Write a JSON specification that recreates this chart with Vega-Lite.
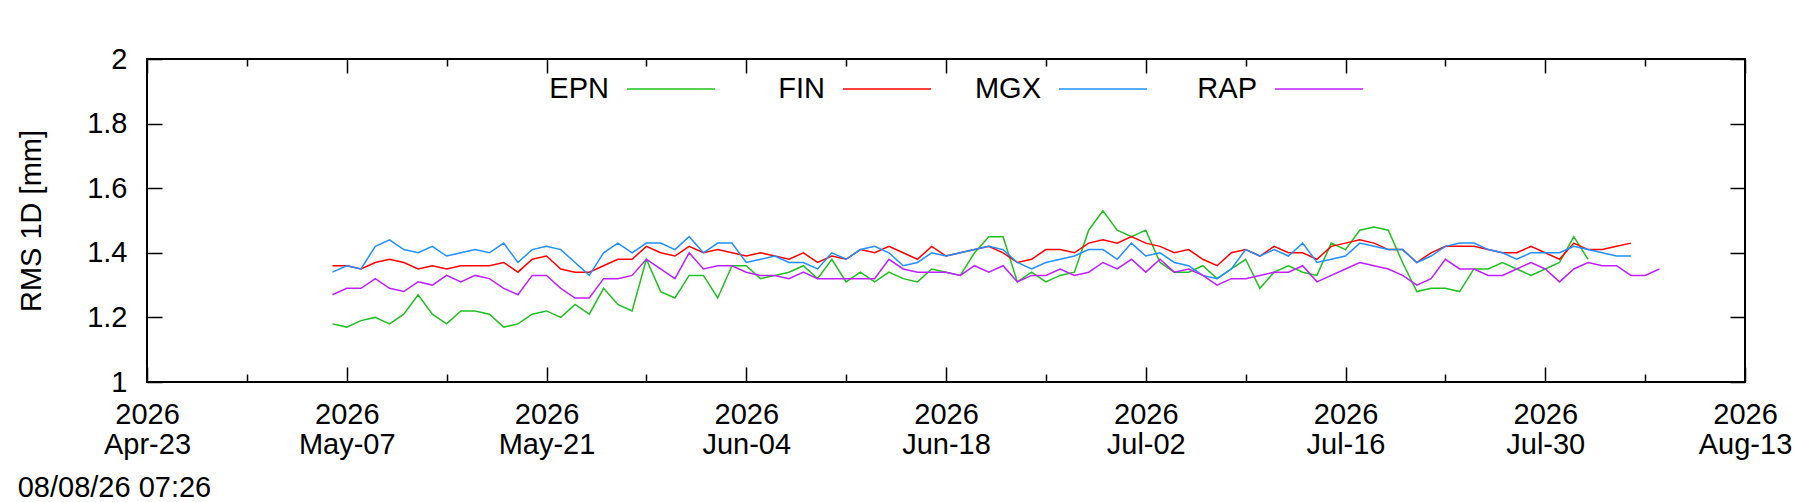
{
"$schema": "https://vega.github.io/schema/vega-lite/v6.json",
"width": 1598, "height": 323,
"autosize": {"type": "none"},
"padding": {"left": 147, "top": 59, "right": 55, "bottom": 120},
"background": "white",
"config": {
  "view": {"stroke": "black", "strokeWidth": 2},
  "font": "Liberation Sans",
  "axis": {"labelFont": "Liberation Sans", "labelFontSize": 29, "labelColor": "black", "titleFont": "Liberation Sans", "titleFontSize": 29, "titleFontWeight": "normal", "titleColor": "black", "tickColor": "black", "tickWidth": 1.5, "grid": false, "domain": false}
},
"title": {"text": "08/08/26 07:26", "orient": "bottom", "anchor": "start", "frame": "bounds", "fontSize": 29, "fontWeight": "normal", "font": "Liberation Sans", "color": "black", "offset": 15},
"data": {"values": [
{"t":"2026-05-06","s":"EPN","v":1.18},{"t":"2026-05-07","s":"EPN","v":1.17},{"t":"2026-05-08","s":"EPN","v":1.19},{"t":"2026-05-09","s":"EPN","v":1.20},{"t":"2026-05-10","s":"EPN","v":1.18},{"t":"2026-05-11","s":"EPN","v":1.21},{"t":"2026-05-12","s":"EPN","v":1.27},{"t":"2026-05-13","s":"EPN","v":1.21},{"t":"2026-05-14","s":"EPN","v":1.18},{"t":"2026-05-15","s":"EPN","v":1.22},{"t":"2026-05-16","s":"EPN","v":1.22},{"t":"2026-05-17","s":"EPN","v":1.21},{"t":"2026-05-18","s":"EPN","v":1.17},{"t":"2026-05-19","s":"EPN","v":1.18},{"t":"2026-05-20","s":"EPN","v":1.21},{"t":"2026-05-21","s":"EPN","v":1.22},{"t":"2026-05-22","s":"EPN","v":1.20},{"t":"2026-05-23","s":"EPN","v":1.24},{"t":"2026-05-24","s":"EPN","v":1.21},{"t":"2026-05-25","s":"EPN","v":1.29},{"t":"2026-05-26","s":"EPN","v":1.24},{"t":"2026-05-27","s":"EPN","v":1.22},{"t":"2026-05-28","s":"EPN","v":1.38},{"t":"2026-05-29","s":"EPN","v":1.28},{"t":"2026-05-30","s":"EPN","v":1.26},{"t":"2026-05-31","s":"EPN","v":1.33},
{"t":"2026-06-01","s":"EPN","v":1.33},{"t":"2026-06-02","s":"EPN","v":1.26},{"t":"2026-06-03","s":"EPN","v":1.36},{"t":"2026-06-04","s":"EPN","v":1.36},{"t":"2026-06-05","s":"EPN","v":1.32},{"t":"2026-06-06","s":"EPN","v":1.33},{"t":"2026-06-07","s":"EPN","v":1.34},{"t":"2026-06-08","s":"EPN","v":1.36},{"t":"2026-06-09","s":"EPN","v":1.32},{"t":"2026-06-10","s":"EPN","v":1.38},{"t":"2026-06-11","s":"EPN","v":1.31},{"t":"2026-06-12","s":"EPN","v":1.34},{"t":"2026-06-13","s":"EPN","v":1.31},{"t":"2026-06-14","s":"EPN","v":1.34},{"t":"2026-06-15","s":"EPN","v":1.32},{"t":"2026-06-16","s":"EPN","v":1.31},{"t":"2026-06-17","s":"EPN","v":1.35},{"t":"2026-06-18","s":"EPN","v":1.34},{"t":"2026-06-19","s":"EPN","v":1.33},{"t":"2026-06-20","s":"EPN","v":1.40},{"t":"2026-06-21","s":"EPN","v":1.45},{"t":"2026-06-22","s":"EPN","v":1.45},{"t":"2026-06-23","s":"EPN","v":1.31},{"t":"2026-06-24","s":"EPN","v":1.34},{"t":"2026-06-25","s":"EPN","v":1.31},{"t":"2026-06-26","s":"EPN","v":1.33},{"t":"2026-06-27","s":"EPN","v":1.34},{"t":"2026-06-28","s":"EPN","v":1.47},{"t":"2026-06-29","s":"EPN","v":1.53},{"t":"2026-06-30","s":"EPN","v":1.47},
{"t":"2026-07-01","s":"EPN","v":1.45},{"t":"2026-07-02","s":"EPN","v":1.47},{"t":"2026-07-03","s":"EPN","v":1.37},{"t":"2026-07-04","s":"EPN","v":1.34},{"t":"2026-07-05","s":"EPN","v":1.34},{"t":"2026-07-06","s":"EPN","v":1.36},{"t":"2026-07-07","s":"EPN","v":1.32},{"t":"2026-07-08","s":"EPN","v":1.35},{"t":"2026-07-09","s":"EPN","v":1.38},{"t":"2026-07-10","s":"EPN","v":1.29},{"t":"2026-07-11","s":"EPN","v":1.34},{"t":"2026-07-12","s":"EPN","v":1.36},{"t":"2026-07-13","s":"EPN","v":1.34},{"t":"2026-07-14","s":"EPN","v":1.33},{"t":"2026-07-15","s":"EPN","v":1.43},{"t":"2026-07-16","s":"EPN","v":1.41},{"t":"2026-07-17","s":"EPN","v":1.47},{"t":"2026-07-18","s":"EPN","v":1.48},{"t":"2026-07-19","s":"EPN","v":1.47},{"t":"2026-07-20","s":"EPN","v":1.37},{"t":"2026-07-21","s":"EPN","v":1.28},{"t":"2026-07-22","s":"EPN","v":1.29},{"t":"2026-07-23","s":"EPN","v":1.29},{"t":"2026-07-24","s":"EPN","v":1.28},{"t":"2026-07-25","s":"EPN","v":1.35},{"t":"2026-07-26","s":"EPN","v":1.35},{"t":"2026-07-27","s":"EPN","v":1.37},{"t":"2026-07-28","s":"EPN","v":1.35},{"t":"2026-07-29","s":"EPN","v":1.33},{"t":"2026-07-30","s":"EPN","v":1.35},{"t":"2026-07-31","s":"EPN","v":1.37},
{"t":"2026-08-01","s":"EPN","v":1.45},{"t":"2026-08-02","s":"EPN","v":1.38},
{"t":"2026-05-06","s":"FIN","v":1.36},{"t":"2026-05-07","s":"FIN","v":1.36},{"t":"2026-05-08","s":"FIN","v":1.35},{"t":"2026-05-09","s":"FIN","v":1.37},{"t":"2026-05-10","s":"FIN","v":1.38},{"t":"2026-05-11","s":"FIN","v":1.37},{"t":"2026-05-12","s":"FIN","v":1.35},{"t":"2026-05-13","s":"FIN","v":1.36},{"t":"2026-05-14","s":"FIN","v":1.35},{"t":"2026-05-15","s":"FIN","v":1.36},{"t":"2026-05-16","s":"FIN","v":1.36},{"t":"2026-05-17","s":"FIN","v":1.36},{"t":"2026-05-18","s":"FIN","v":1.37},{"t":"2026-05-19","s":"FIN","v":1.34},{"t":"2026-05-20","s":"FIN","v":1.38},{"t":"2026-05-21","s":"FIN","v":1.39},{"t":"2026-05-22","s":"FIN","v":1.35},{"t":"2026-05-23","s":"FIN","v":1.34},{"t":"2026-05-24","s":"FIN","v":1.34},{"t":"2026-05-25","s":"FIN","v":1.36},{"t":"2026-05-26","s":"FIN","v":1.38},{"t":"2026-05-27","s":"FIN","v":1.38},{"t":"2026-05-28","s":"FIN","v":1.42},{"t":"2026-05-29","s":"FIN","v":1.40},{"t":"2026-05-30","s":"FIN","v":1.39},{"t":"2026-05-31","s":"FIN","v":1.42},
{"t":"2026-06-01","s":"FIN","v":1.40},{"t":"2026-06-02","s":"FIN","v":1.41},{"t":"2026-06-03","s":"FIN","v":1.40},{"t":"2026-06-04","s":"FIN","v":1.39},{"t":"2026-06-05","s":"FIN","v":1.40},{"t":"2026-06-06","s":"FIN","v":1.39},{"t":"2026-06-07","s":"FIN","v":1.38},{"t":"2026-06-08","s":"FIN","v":1.40},{"t":"2026-06-09","s":"FIN","v":1.37},{"t":"2026-06-10","s":"FIN","v":1.39},{"t":"2026-06-11","s":"FIN","v":1.38},{"t":"2026-06-12","s":"FIN","v":1.41},{"t":"2026-06-13","s":"FIN","v":1.40},{"t":"2026-06-14","s":"FIN","v":1.42},{"t":"2026-06-15","s":"FIN","v":1.40},{"t":"2026-06-16","s":"FIN","v":1.38},{"t":"2026-06-17","s":"FIN","v":1.42},{"t":"2026-06-18","s":"FIN","v":1.39},{"t":"2026-06-19","s":"FIN","v":1.40},{"t":"2026-06-20","s":"FIN","v":1.41},{"t":"2026-06-21","s":"FIN","v":1.42},{"t":"2026-06-22","s":"FIN","v":1.40},{"t":"2026-06-23","s":"FIN","v":1.37},{"t":"2026-06-24","s":"FIN","v":1.38},{"t":"2026-06-25","s":"FIN","v":1.41},{"t":"2026-06-26","s":"FIN","v":1.41},{"t":"2026-06-27","s":"FIN","v":1.40},{"t":"2026-06-28","s":"FIN","v":1.43},{"t":"2026-06-29","s":"FIN","v":1.44},{"t":"2026-06-30","s":"FIN","v":1.43},
{"t":"2026-07-01","s":"FIN","v":1.45},{"t":"2026-07-02","s":"FIN","v":1.43},{"t":"2026-07-03","s":"FIN","v":1.42},{"t":"2026-07-04","s":"FIN","v":1.40},{"t":"2026-07-05","s":"FIN","v":1.41},{"t":"2026-07-06","s":"FIN","v":1.38},{"t":"2026-07-07","s":"FIN","v":1.36},{"t":"2026-07-08","s":"FIN","v":1.40},{"t":"2026-07-09","s":"FIN","v":1.41},{"t":"2026-07-10","s":"FIN","v":1.39},{"t":"2026-07-11","s":"FIN","v":1.42},{"t":"2026-07-12","s":"FIN","v":1.40},{"t":"2026-07-13","s":"FIN","v":1.40},{"t":"2026-07-14","s":"FIN","v":1.38},{"t":"2026-07-15","s":"FIN","v":1.42},{"t":"2026-07-16","s":"FIN","v":1.43},{"t":"2026-07-17","s":"FIN","v":1.44},{"t":"2026-07-18","s":"FIN","v":1.43},{"t":"2026-07-19","s":"FIN","v":1.41},{"t":"2026-07-20","s":"FIN","v":1.41},{"t":"2026-07-21","s":"FIN","v":1.37},{"t":"2026-07-22","s":"FIN","v":1.40},{"t":"2026-07-23","s":"FIN","v":1.42},{"t":"2026-07-24","s":"FIN","v":1.42},{"t":"2026-07-25","s":"FIN","v":1.42},{"t":"2026-07-26","s":"FIN","v":1.41},{"t":"2026-07-27","s":"FIN","v":1.40},{"t":"2026-07-28","s":"FIN","v":1.40},{"t":"2026-07-29","s":"FIN","v":1.42},{"t":"2026-07-30","s":"FIN","v":1.40},{"t":"2026-07-31","s":"FIN","v":1.38},
{"t":"2026-08-01","s":"FIN","v":1.43},{"t":"2026-08-02","s":"FIN","v":1.41},{"t":"2026-08-03","s":"FIN","v":1.41},{"t":"2026-08-04","s":"FIN","v":1.42},{"t":"2026-08-05","s":"FIN","v":1.43},
{"t":"2026-05-06","s":"MGX","v":1.34},{"t":"2026-05-07","s":"MGX","v":1.36},{"t":"2026-05-08","s":"MGX","v":1.35},{"t":"2026-05-09","s":"MGX","v":1.42},{"t":"2026-05-10","s":"MGX","v":1.44},{"t":"2026-05-11","s":"MGX","v":1.41},{"t":"2026-05-12","s":"MGX","v":1.40},{"t":"2026-05-13","s":"MGX","v":1.42},{"t":"2026-05-14","s":"MGX","v":1.39},{"t":"2026-05-15","s":"MGX","v":1.40},{"t":"2026-05-16","s":"MGX","v":1.41},{"t":"2026-05-17","s":"MGX","v":1.40},{"t":"2026-05-18","s":"MGX","v":1.43},{"t":"2026-05-19","s":"MGX","v":1.37},{"t":"2026-05-20","s":"MGX","v":1.41},{"t":"2026-05-21","s":"MGX","v":1.42},{"t":"2026-05-22","s":"MGX","v":1.41},{"t":"2026-05-23","s":"MGX","v":1.37},{"t":"2026-05-24","s":"MGX","v":1.33},{"t":"2026-05-25","s":"MGX","v":1.40},{"t":"2026-05-26","s":"MGX","v":1.43},{"t":"2026-05-27","s":"MGX","v":1.40},{"t":"2026-05-28","s":"MGX","v":1.43},{"t":"2026-05-29","s":"MGX","v":1.43},{"t":"2026-05-30","s":"MGX","v":1.41},{"t":"2026-05-31","s":"MGX","v":1.45},
{"t":"2026-06-01","s":"MGX","v":1.40},{"t":"2026-06-02","s":"MGX","v":1.43},{"t":"2026-06-03","s":"MGX","v":1.43},{"t":"2026-06-04","s":"MGX","v":1.37},{"t":"2026-06-05","s":"MGX","v":1.38},{"t":"2026-06-06","s":"MGX","v":1.39},{"t":"2026-06-07","s":"MGX","v":1.37},{"t":"2026-06-08","s":"MGX","v":1.37},{"t":"2026-06-09","s":"MGX","v":1.35},{"t":"2026-06-10","s":"MGX","v":1.40},{"t":"2026-06-11","s":"MGX","v":1.38},{"t":"2026-06-12","s":"MGX","v":1.41},{"t":"2026-06-13","s":"MGX","v":1.42},{"t":"2026-06-14","s":"MGX","v":1.40},{"t":"2026-06-15","s":"MGX","v":1.36},{"t":"2026-06-16","s":"MGX","v":1.37},{"t":"2026-06-17","s":"MGX","v":1.40},{"t":"2026-06-18","s":"MGX","v":1.39},{"t":"2026-06-19","s":"MGX","v":1.40},{"t":"2026-06-20","s":"MGX","v":1.41},{"t":"2026-06-21","s":"MGX","v":1.42},{"t":"2026-06-22","s":"MGX","v":1.41},{"t":"2026-06-23","s":"MGX","v":1.37},{"t":"2026-06-24","s":"MGX","v":1.35},{"t":"2026-06-25","s":"MGX","v":1.37},{"t":"2026-06-26","s":"MGX","v":1.38},{"t":"2026-06-27","s":"MGX","v":1.39},{"t":"2026-06-28","s":"MGX","v":1.41},{"t":"2026-06-29","s":"MGX","v":1.41},{"t":"2026-06-30","s":"MGX","v":1.38},
{"t":"2026-07-01","s":"MGX","v":1.43},{"t":"2026-07-02","s":"MGX","v":1.39},{"t":"2026-07-03","s":"MGX","v":1.40},{"t":"2026-07-04","s":"MGX","v":1.37},{"t":"2026-07-05","s":"MGX","v":1.36},{"t":"2026-07-06","s":"MGX","v":1.33},{"t":"2026-07-07","s":"MGX","v":1.32},{"t":"2026-07-08","s":"MGX","v":1.35},{"t":"2026-07-09","s":"MGX","v":1.41},{"t":"2026-07-10","s":"MGX","v":1.39},{"t":"2026-07-11","s":"MGX","v":1.41},{"t":"2026-07-12","s":"MGX","v":1.39},{"t":"2026-07-13","s":"MGX","v":1.43},{"t":"2026-07-14","s":"MGX","v":1.37},{"t":"2026-07-15","s":"MGX","v":1.38},{"t":"2026-07-16","s":"MGX","v":1.39},{"t":"2026-07-17","s":"MGX","v":1.43},{"t":"2026-07-18","s":"MGX","v":1.42},{"t":"2026-07-19","s":"MGX","v":1.41},{"t":"2026-07-20","s":"MGX","v":1.41},{"t":"2026-07-21","s":"MGX","v":1.37},{"t":"2026-07-22","s":"MGX","v":1.39},{"t":"2026-07-23","s":"MGX","v":1.42},{"t":"2026-07-24","s":"MGX","v":1.43},{"t":"2026-07-25","s":"MGX","v":1.43},{"t":"2026-07-26","s":"MGX","v":1.41},{"t":"2026-07-27","s":"MGX","v":1.40},{"t":"2026-07-28","s":"MGX","v":1.38},{"t":"2026-07-29","s":"MGX","v":1.40},{"t":"2026-07-30","s":"MGX","v":1.40},{"t":"2026-07-31","s":"MGX","v":1.40},
{"t":"2026-08-01","s":"MGX","v":1.42},{"t":"2026-08-02","s":"MGX","v":1.41},{"t":"2026-08-03","s":"MGX","v":1.40},{"t":"2026-08-04","s":"MGX","v":1.39},{"t":"2026-08-05","s":"MGX","v":1.39},
{"t":"2026-05-06","s":"RAP","v":1.27},{"t":"2026-05-07","s":"RAP","v":1.29},{"t":"2026-05-08","s":"RAP","v":1.29},{"t":"2026-05-09","s":"RAP","v":1.32},{"t":"2026-05-10","s":"RAP","v":1.29},{"t":"2026-05-11","s":"RAP","v":1.28},{"t":"2026-05-12","s":"RAP","v":1.31},{"t":"2026-05-13","s":"RAP","v":1.30},{"t":"2026-05-14","s":"RAP","v":1.33},{"t":"2026-05-15","s":"RAP","v":1.31},{"t":"2026-05-16","s":"RAP","v":1.33},{"t":"2026-05-17","s":"RAP","v":1.32},{"t":"2026-05-18","s":"RAP","v":1.29},{"t":"2026-05-19","s":"RAP","v":1.27},{"t":"2026-05-20","s":"RAP","v":1.33},{"t":"2026-05-21","s":"RAP","v":1.33},{"t":"2026-05-22","s":"RAP","v":1.29},{"t":"2026-05-23","s":"RAP","v":1.26},{"t":"2026-05-24","s":"RAP","v":1.26},{"t":"2026-05-25","s":"RAP","v":1.32},{"t":"2026-05-26","s":"RAP","v":1.32},{"t":"2026-05-27","s":"RAP","v":1.33},{"t":"2026-05-28","s":"RAP","v":1.38},{"t":"2026-05-29","s":"RAP","v":1.35},{"t":"2026-05-30","s":"RAP","v":1.32},{"t":"2026-05-31","s":"RAP","v":1.40},
{"t":"2026-06-01","s":"RAP","v":1.35},{"t":"2026-06-02","s":"RAP","v":1.36},{"t":"2026-06-03","s":"RAP","v":1.36},{"t":"2026-06-04","s":"RAP","v":1.34},{"t":"2026-06-05","s":"RAP","v":1.33},{"t":"2026-06-06","s":"RAP","v":1.33},{"t":"2026-06-07","s":"RAP","v":1.32},{"t":"2026-06-08","s":"RAP","v":1.34},{"t":"2026-06-09","s":"RAP","v":1.32},{"t":"2026-06-10","s":"RAP","v":1.32},{"t":"2026-06-11","s":"RAP","v":1.32},{"t":"2026-06-12","s":"RAP","v":1.32},{"t":"2026-06-13","s":"RAP","v":1.32},{"t":"2026-06-14","s":"RAP","v":1.38},{"t":"2026-06-15","s":"RAP","v":1.35},{"t":"2026-06-16","s":"RAP","v":1.34},{"t":"2026-06-17","s":"RAP","v":1.34},{"t":"2026-06-18","s":"RAP","v":1.34},{"t":"2026-06-19","s":"RAP","v":1.33},{"t":"2026-06-20","s":"RAP","v":1.36},{"t":"2026-06-21","s":"RAP","v":1.34},{"t":"2026-06-22","s":"RAP","v":1.36},{"t":"2026-06-23","s":"RAP","v":1.31},{"t":"2026-06-24","s":"RAP","v":1.33},{"t":"2026-06-25","s":"RAP","v":1.33},{"t":"2026-06-26","s":"RAP","v":1.35},{"t":"2026-06-27","s":"RAP","v":1.33},{"t":"2026-06-28","s":"RAP","v":1.34},{"t":"2026-06-29","s":"RAP","v":1.37},{"t":"2026-06-30","s":"RAP","v":1.35},
{"t":"2026-07-01","s":"RAP","v":1.38},{"t":"2026-07-02","s":"RAP","v":1.34},{"t":"2026-07-03","s":"RAP","v":1.38},{"t":"2026-07-04","s":"RAP","v":1.34},{"t":"2026-07-05","s":"RAP","v":1.35},{"t":"2026-07-06","s":"RAP","v":1.33},{"t":"2026-07-07","s":"RAP","v":1.30},{"t":"2026-07-08","s":"RAP","v":1.32},{"t":"2026-07-09","s":"RAP","v":1.32},{"t":"2026-07-10","s":"RAP","v":1.33},{"t":"2026-07-11","s":"RAP","v":1.34},{"t":"2026-07-12","s":"RAP","v":1.34},{"t":"2026-07-13","s":"RAP","v":1.36},{"t":"2026-07-14","s":"RAP","v":1.31},{"t":"2026-07-15","s":"RAP","v":1.33},{"t":"2026-07-16","s":"RAP","v":1.35},{"t":"2026-07-17","s":"RAP","v":1.37},{"t":"2026-07-18","s":"RAP","v":1.36},{"t":"2026-07-19","s":"RAP","v":1.35},{"t":"2026-07-20","s":"RAP","v":1.33},{"t":"2026-07-21","s":"RAP","v":1.30},{"t":"2026-07-22","s":"RAP","v":1.32},{"t":"2026-07-23","s":"RAP","v":1.38},{"t":"2026-07-24","s":"RAP","v":1.35},{"t":"2026-07-25","s":"RAP","v":1.35},{"t":"2026-07-26","s":"RAP","v":1.33},{"t":"2026-07-27","s":"RAP","v":1.33},{"t":"2026-07-28","s":"RAP","v":1.35},{"t":"2026-07-29","s":"RAP","v":1.37},{"t":"2026-07-30","s":"RAP","v":1.35},{"t":"2026-07-31","s":"RAP","v":1.31},
{"t":"2026-08-01","s":"RAP","v":1.35},{"t":"2026-08-02","s":"RAP","v":1.37},{"t":"2026-08-03","s":"RAP","v":1.36},{"t":"2026-08-04","s":"RAP","v":1.36},{"t":"2026-08-05","s":"RAP","v":1.33},{"t":"2026-08-06","s":"RAP","v":1.33},{"t":"2026-08-07","s":"RAP","v":1.35}
]},
"layer": [
{
  "mark": {"type": "line", "strokeWidth": 1.5},
  "encoding": {
    "x": {"field": "t", "type": "temporal",
      "scale": {"type": "utc", "domain": [{"year": 2026, "month": 4, "date": 23, "utc": true}, {"year": 2026, "month": 8, "date": 13, "utc": true}], "nice": false},
      "axis": {"orient": "bottom", "title": null,
        "values": [{"year":2026,"month":4,"date":23,"utc":true},{"year":2026,"month":4,"date":30,"utc":true},{"year":2026,"month":5,"date":7,"utc":true},{"year":2026,"month":5,"date":14,"utc":true},{"year":2026,"month":5,"date":21,"utc":true},{"year":2026,"month":5,"date":28,"utc":true},{"year":2026,"month":6,"date":4,"utc":true},{"year":2026,"month":6,"date":11,"utc":true},{"year":2026,"month":6,"date":18,"utc":true},{"year":2026,"month":6,"date":25,"utc":true},{"year":2026,"month":7,"date":2,"utc":true},{"year":2026,"month":7,"date":9,"utc":true},{"year":2026,"month":7,"date":16,"utc":true},{"year":2026,"month":7,"date":23,"utc":true},{"year":2026,"month":7,"date":30,"utc":true},{"year":2026,"month":8,"date":6,"utc":true},{"year":2026,"month":8,"date":13,"utc":true}],
        "labelExpr": "(round((datum.value - utc(2026,3,23))/86400000) % 14 == 0) ? [utcFormat(datum.value,'%Y'), utcFormat(datum.value,'%b-%d')] : ''",
        "tickSize": {"condition": {"test": "round((datum.value - utc(2026,3,23))/86400000) % 14 == 0", "value": -15}, "value": -8},
        "labelPadding": 33, "labelLineHeight": 30, "labelAlign": "center", "labelBaseline": "top", "labelFlush": false, "labelOverlap": false}},
    "y": {"field": "v", "type": "quantitative",
      "scale": {"domain": [1, 2], "nice": false, "zero": false},
      "axis": {"orient": "left", "title": "RMS 1D [mm]", "values": [1, 1.2, 1.4, 1.6, 1.8, 2], "format": "~g", "tickSize": -15, "labelPadding": 35, "titlePadding": 40, "labelFlush": false, "labelOverlap": false}},
    "color": {"field": "s", "type": "nominal",
      "scale": {"domain": ["EPN", "FIN", "MGX", "RAP"], "range": ["#20c020", "#ff0000", "#1e90ff", "#c020ff"]},
      "legend": {"orient": "none", "legendX": 479, "legendY": -15, "direction": "horizontal", "title": null,
        "symbolType": "stroke", "symbolSize": 7744, "symbolStrokeWidth": 1.5,
        "labelFontSize": 29, "labelFont": "Liberation Sans", "labelColor": "black", "labelAlign": "right", "labelOffset": -107,
        "gridAlign": "all", "columnPadding": 40, "padding": 0, "labelLimit": 0}}
  }
},
{
  "mark": {"type": "point", "opacity": 0},
  "encoding": {
    "x": {"field": "t", "type": "temporal",
      "axis": {"orient": "top", "title": null, "labels": false,
        "values": [{"year":2026,"month":4,"date":23,"utc":true},{"year":2026,"month":4,"date":30,"utc":true},{"year":2026,"month":5,"date":7,"utc":true},{"year":2026,"month":5,"date":14,"utc":true},{"year":2026,"month":5,"date":21,"utc":true},{"year":2026,"month":5,"date":28,"utc":true},{"year":2026,"month":6,"date":4,"utc":true},{"year":2026,"month":6,"date":11,"utc":true},{"year":2026,"month":6,"date":18,"utc":true},{"year":2026,"month":6,"date":25,"utc":true},{"year":2026,"month":7,"date":2,"utc":true},{"year":2026,"month":7,"date":9,"utc":true},{"year":2026,"month":7,"date":16,"utc":true},{"year":2026,"month":7,"date":23,"utc":true},{"year":2026,"month":7,"date":30,"utc":true},{"year":2026,"month":8,"date":6,"utc":true},{"year":2026,"month":8,"date":13,"utc":true}],
        "tickSize": {"condition": {"test": "round((datum.value - utc(2026,3,23))/86400000) % 14 == 0", "value": -14}, "value": -7}}},
    "y": {"field": "v", "type": "quantitative",
      "axis": {"orient": "right", "title": null, "labels": false, "values": [1, 1.2, 1.4, 1.6, 1.8, 2], "tickSize": -15}}
  }
}
],
"resolve": {"axis": {"x": "independent", "y": "independent"}}
}
